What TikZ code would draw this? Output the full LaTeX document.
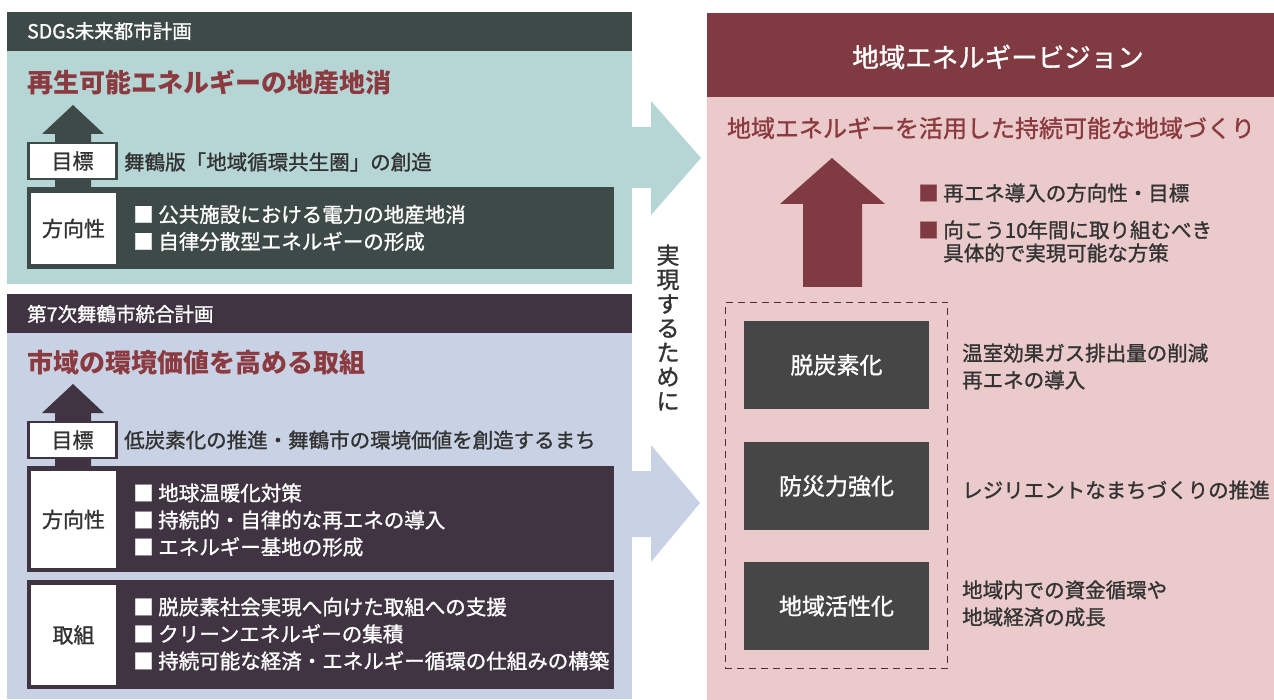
\documentclass[tikz,border=0pt]{standalone}
\usepackage{fontspec}
\setmainfont{Noto Sans CJK JP}
\newfontfamily\mediumfont{Noto Sans CJK JP}[FakeBold=1.2]
\usepackage{xcolor}
\usepackage{tikz}
\usetikzlibrary{positioning, fit}
\definecolor{sdgsdark}{RGB}{62,74,71}
\definecolor{sdgsbody}{RGB}{182,214,214}
\definecolor{plandark}{RGB}{64,52,66}
\definecolor{planbody}{RGB}{200,210,228}
\definecolor{visioncolor}{RGB}{128,58,66}
\definecolor{visionbody}{RGB}{234,202,202}
\definecolor{titlered}{RGB}{139,58,64}
\definecolor{pillarcolor}{RGB}{70,70,70}
\definecolor{textdark}{RGB}{51,51,51}

\begin{document}
\begin{tikzpicture}[
    x=1pt, y=-1pt,
    panel/.style={anchor=north west, inner sep=0pt, outer sep=0pt},
    headtext/.style={anchor=west, inner sep=0pt, text=white, font=\fontsize{19.5}{19.5}\selectfont\mediumfont},
    titletext/.style={anchor=west, inner sep=0pt, text=titlered, font=\fontsize{26}{26}\selectfont\bfseries},
    tagbox/.style={draw=#1, line width=2.5pt, fill=white, inner sep=0pt, minimum width=88pt, minimum height=36pt, text=textdark, font=\fontsize{21}{21}\selectfont\mediumfont},
    whitebox/.style={panel, fill=white, minimum width=85pt, text=textdark, font=\fontsize{21}{21}\selectfont\mediumfont},
    bodytext/.style={anchor=west, inner sep=0pt, align=left, text=textdark, font=\fontsize{20.5}{27}\selectfont\mediumfont},
    bullets/.style={bodytext, text=white},
    pillar/.style={fill=pillarcolor, minimum width=185pt, minimum height=88pt, text=white, font=\fontsize{23}{23}\selectfont\mediumfont}
]
    \useasboundingbox (0,0) rectangle (1274,700);

    % SDGs panel
    \node[panel, fill=sdgsdark, minimum width=625pt, minimum height=39pt] (sdgshead) at (7,12) {};
    \node[panel, fill=sdgsbody, minimum width=625pt, minimum height=233pt] (sdgsbody) at (7,51) {};
    \node[headtext] (sdgsname) at (27,31) {SDGs未来都市計画};
    \node[titletext] (sdgstitle) at (27,82) {再生可能エネルギーの地産地消};
    \fill[sdgsdark] (73,105) -- (104,134) -- (91,134) -- (91,187) -- (55,187) -- (55,134) -- (42,134) -- cycle;
    \node[tagbox=sdgsdark] (sdgsgoal) at (72.5,161) {目標};
    \node[bodytext] (sdgsgoaltext) at (124,162) {舞鶴版「地域循環共生圏」の創造};
    \node[panel, fill=sdgsdark, minimum width=587pt, minimum height=82pt] (sdgsband) at (27,187) {};
    \node[whitebox, minimum height=71pt] (sdgsdir) at (31,193) {方向性};
    \node[bullets] (sdgsdirtext) at (133,228) {■ 公共施設における電力の地産地消\\■ 自律分散型エネルギーの形成};

    % City plan panel
    \node[panel, fill=plandark, minimum width=625pt, minimum height=39pt] (planhead) at (7,294) {};
    \node[panel, fill=planbody, minimum width=625pt, minimum height=366pt] (planbody) at (7,333) {};
    \node[headtext] (planname) at (27,314) {第7次舞鶴市統合計画};
    \node[titletext] (plantitle) at (27,363) {市域の環境価値を高める取組};
    \fill[plandark] (73,384) -- (104,413) -- (91,413) -- (91,466) -- (55,466) -- (55,413) -- (42,413) -- cycle;
    \node[tagbox=plandark] (plangoal) at (72.5,440) {目標};
    \node[bodytext] (plangoaltext) at (124,440) {低炭素化の推進・舞鶴市の環境価値を創造するまち};
    \node[panel, fill=plandark, minimum width=587pt, minimum height=106pt] (planband) at (27,466) {};
    \node[whitebox, minimum height=97pt] (plandir) at (31,471) {方向性};
    \node[bullets] (plandirtext) at (133,520) {■ 地球温暖化対策\\■ 持続的・自律的な再エネの導入\\■ エネルギー基地の形成};
    \node[panel, fill=plandark, minimum width=587pt, minimum height=109pt] (actband) at (27,580) {};
    \node[whitebox, minimum height=100pt] (planact) at (31,585) {取組};
    \node[bullets] (planacttext) at (133,634) {■ 脱炭素社会実現へ向けた取組への支援\\■ クリーンエネルギーの集積\\■ 持続可能な経済・エネルギー循環の仕組みの構築};

    % Arrows between panels
    \fill[sdgsbody] (632,127) -- (651,127) -- (651,101) -- (701,158) -- (651,215) -- (651,188) -- (632,188) -- cycle;
    \fill[planbody] (632,471) -- (651,471) -- (651,445) -- (700,503) -- (651,562) -- (651,537) -- (632,537) -- cycle;
    \node[align=center, inner sep=0pt, text=textdark, font=\fontsize{23}{24.3}\selectfont\mediumfont] (purpose) at (668,327.5) {実\\現\\す\\る\\た\\め\\に};

    % Vision panel
    \node[panel, fill=visioncolor, minimum width=567pt, minimum height=84pt] (visionhead) at (707,13) {};
    \node[panel, fill=visionbody, minimum width=567pt, minimum height=603pt] (visionbody) at (707,97) {};
    \node[text=white, inner sep=0pt, font=\fontsize{26.5}{26.5}\selectfont\mediumfont] (visionname) at (998,57) {地域エネルギービジョン};
    \node[text=titlered, inner sep=0pt, font=\fontsize{24}{24}\selectfont\mediumfont] (visiontitle) at (991,128) {地域エネルギーを活用した持続可能な地域づくり};
    \fill[visioncolor] (832,158) -- (885,204) -- (862,204) -- (862,287) -- (803,287) -- (803,204) -- (780,204) -- cycle;
    \node[bodytext] (visionaim) at (918,193) {\textcolor{visioncolor}{■} 再エネ導入の方向性・目標};
    \node[bodytext, font=\fontsize{20.5}{23}\selectfont\mediumfont] (visionplan) at (918,241.5) {\textcolor{visioncolor}{■} 向こう10年間に取り組むべき\\\phantom{■ }具体的で実現可能な方策};

    % Pillars
    \node[pillar] (decarb) at (836.5,365) {脱炭素化};
    \node[pillar] (disaster) at (836.5,486) {防災力強化};
    \node[pillar] (revital) at (836.5,606) {地域活性化};
    \node[draw=visioncolor!70!black, line width=1.5pt, dash pattern=on 7pt off 5pt, inner sep=18.5pt, fit=(decarb)(disaster)(revital)] (pillars) {};
    \node[bodytext] (decarbtext) at (962,366.5) {温室効果ガス排出量の削減\\再エネの導入};
    \node[bodytext] (disastertext) at (962,490) {レジリエントなまちづくりの推進};
    \node[bodytext] (revitaltext) at (962,603.5) {地域内での資金循環や\\地域経済の成長};
\end{tikzpicture}
\end{document}
